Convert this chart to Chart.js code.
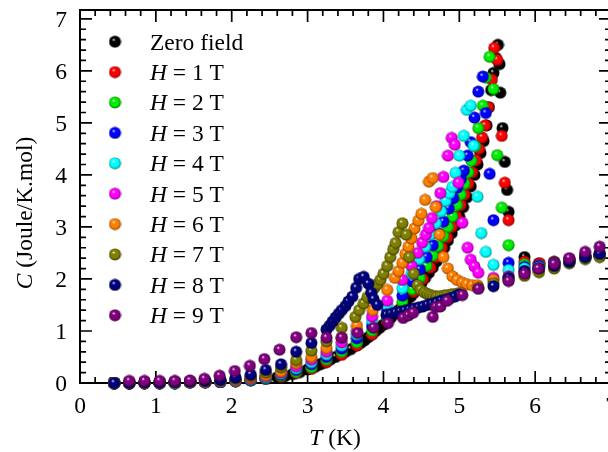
<!DOCTYPE html>
<html>
<head>
<meta charset="utf-8">
<script src="https://cdn.jsdelivr.net/npm/chart.js@4/dist/chart.umd.min.js"></script>
<style>
  html, body { margin: 0; padding: 0; overflow: hidden; background: #fff; }
  canvas { display: block; }
</style>
</head>
<body>
<canvas id="heatChart" width="608" height="452"></canvas>
<script>
// [T (K), C (Joule/K.mol)]
const zeroField = [[0.45,0],[0.65,0],[0.85,0],[1.05,0],[1.25,0],[1.45,0.01],[1.65,0.01],[1.85,0.02],[2.05,0.03],[2.25,0.05],[2.45,0.08],[2.6,0.11],[2.7,0.13],[2.8,0.17],[2.9,0.21],[3.0,0.26],[3.05,0.29],[3.1,0.31],[3.15,0.35],[3.2,0.38],[3.25,0.41],[3.3,0.45],[3.37,0.5],[3.45,0.56],[3.5,0.6],[3.57,0.65],[3.65,0.72],[3.7,0.77],[3.75,0.82],[3.8,0.88],[3.85,0.94],[3.9,1.0],[3.95,1.06],[4.0,1.12],[4.05,1.19],[4.1,1.26],[4.15,1.33],[4.2,1.4],[4.25,1.48],[4.3,1.56],[4.36,1.66],[4.4,1.73],[4.45,1.82],[4.5,1.92],[4.55,2.02],[4.6,2.12],[4.65,2.22],[4.7,2.34],[4.75,2.47],[4.8,2.6],[4.85,2.74],[4.9,2.88],[4.95,3.03],[5.0,3.2],[5.05,3.38],[5.1,3.57],[5.15,3.78],[5.2,4.0],[5.24,4.2],[5.28,4.42],[5.32,4.65],[5.36,4.95],[5.39,5.3],[5.42,5.63],[5.45,5.96],[5.48,6.25],[5.51,6.5],[5.53,6.13],[5.54,5.58],[5.57,4.9],[5.6,4.25],[5.63,3.71],[5.65,3.29],[5.86,2.42],[6.05,2.3],[6.25,2.33],[6.45,2.37],[6.66,2.45],[6.85,2.48]];
const field1T = [[0.45,0],[0.65,0],[0.85,0],[1.05,0],[1.25,0],[1.45,0.01],[1.65,0.01],[1.85,0.02],[2.05,0.03],[2.25,0.05],[2.45,0.08],[2.65,0.12],[2.85,0.19],[3.05,0.27],[3.25,0.4],[3.45,0.54],[3.65,0.72],[3.85,0.93],[4.05,1.18],[4.25,1.48],[4.4,1.75],[4.52,2.0],[4.62,2.22],[4.7,2.42],[4.77,2.6],[4.84,2.8],[4.9,3.0],[4.96,3.2],[5.02,3.42],[5.07,3.62],[5.12,3.83],[5.17,4.05],[5.22,4.28],[5.26,4.5],[5.3,4.72],[5.34,4.95],[5.38,5.3],[5.43,5.83],[5.46,6.44],[5.5,6.21],[5.56,4.75],[5.6,3.85],[5.65,3.13],[5.86,2.33],[6.06,2.3],[6.25,2.32],[6.45,2.38],[6.66,2.43],[6.85,2.47]];
const field2T = [[0.45,0],[0.65,0],[0.85,0],[1.05,0],[1.25,0],[1.45,0.01],[1.65,0.01],[1.85,0.02],[2.05,0.03],[2.25,0.05],[2.45,0.09],[2.65,0.14],[2.85,0.21],[3.05,0.3],[3.25,0.45],[3.45,0.6],[3.65,0.78],[3.85,1.0],[4.05,1.26],[4.25,1.56],[4.38,1.8],[4.48,2.02],[4.57,2.25],[4.65,2.45],[4.72,2.63],[4.79,2.82],[4.85,3.0],[4.91,3.2],[4.97,3.42],[5.02,3.62],[5.07,3.83],[5.12,4.05],[5.16,4.27],[5.21,4.55],[5.25,4.9],[5.31,5.33],[5.35,5.87],[5.4,6.27],[5.45,5.65],[5.5,4.38],[5.56,3.37],[5.65,2.65],[5.86,2.28],[6.06,2.25],[6.25,2.3],[6.45,2.35],[6.66,2.42],[6.85,2.45]];
const field3T = [[0.45,0],[0.65,0],[0.85,0],[1.05,0],[1.25,0],[1.45,0.01],[1.65,0.01],[1.85,0.02],[2.05,0.04],[2.25,0.06],[2.45,0.1],[2.65,0.16],[2.85,0.25],[3.05,0.36],[3.25,0.5],[3.45,0.66],[3.65,0.86],[3.85,1.1],[4.05,1.4],[4.25,1.68],[4.38,1.95],[4.48,2.18],[4.57,2.42],[4.65,2.65],[4.72,2.88],[4.79,3.1],[4.86,3.35],[4.92,3.55],[4.97,3.75],[5.02,3.92],[5.06,4.08],[5.11,4.37],[5.15,4.63],[5.2,5.1],[5.25,5.6],[5.31,5.89],[5.35,5.19],[5.4,4.02],[5.45,3.13],[5.65,2.31],[5.86,2.23],[6.05,2.25],[6.25,2.3],[6.45,2.36],[6.66,2.42],[6.85,2.47]];
const field4T = [[0.45,0],[0.65,0],[0.85,0],[1.05,0],[1.25,0],[1.45,0.01],[1.65,0.02],[1.85,0.03],[2.05,0.04],[2.25,0.07],[2.45,0.11],[2.65,0.18],[2.85,0.28],[3.05,0.4],[3.25,0.55],[3.45,0.72],[3.65,0.93],[3.85,1.2],[4.05,1.5],[4.25,1.82],[4.37,2.1],[4.47,2.38],[4.55,2.62],[4.62,2.85],[4.69,3.07],[4.76,3.3],[4.82,3.5],[4.87,3.65],[4.91,3.77],[4.95,4.04],[5.0,4.37],[5.06,4.75],[5.1,5.25],[5.15,5.33],[5.19,4.56],[5.24,3.58],[5.29,2.88],[5.35,2.52],[5.45,2.27],[5.65,2.17],[5.86,2.2],[6.05,2.22],[6.25,2.28],[6.45,2.35],[6.66,2.42],[6.85,2.45]];
const field5T = [[0.45,0],[0.65,0],[0.85,0],[1.05,0],[1.25,0.01],[1.45,0.01],[1.65,0.02],[1.85,0.03],[2.05,0.05],[2.25,0.08],[2.45,0.13],[2.65,0.2],[2.85,0.32],[3.05,0.45],[3.25,0.6],[3.45,0.78],[3.65,1.0],[3.85,1.28],[4.05,1.58],[4.25,1.98],[4.37,2.25],[4.45,2.5],[4.51,2.7],[4.56,2.85],[4.6,2.98],[4.64,3.17],[4.7,3.4],[4.75,3.65],[4.79,3.96],[4.85,4.37],[4.9,4.71],[4.94,4.58],[4.99,3.85],[5.04,3.08],[5.11,2.6],[5.15,2.37],[5.2,2.24],[5.25,2.12],[5.45,2.02],[5.65,2.05],[5.86,2.15],[6.05,2.2],[6.25,2.26],[6.45,2.34],[6.66,2.42],[6.85,2.45]];
const field6T = [[0.45,0],[0.65,0],[0.85,0],[1.05,0.01],[1.25,0.01],[1.45,0.02],[1.65,0.02],[1.85,0.04],[2.05,0.06],[2.25,0.1],[2.45,0.15],[2.65,0.22],[2.85,0.38],[3.05,0.5],[3.25,0.67],[3.45,0.87],[3.65,1.1],[3.86,1.4],[4.05,1.79],[4.15,2.02],[4.2,2.15],[4.25,2.31],[4.29,2.48],[4.33,2.62],[4.37,2.78],[4.41,2.97],[4.46,3.12],[4.5,3.25],[4.55,3.52],[4.6,3.87],[4.65,3.94],[4.69,3.38],[4.74,2.85],[4.79,2.42],[4.85,2.2],[4.91,2.05],[4.97,1.98],[5.04,1.93],[5.1,1.9],[5.17,1.88],[5.24,1.88],[5.45,1.98],[5.65,2.02],[5.86,2.12],[6.05,2.18],[6.25,2.22],[6.45,2.32],[6.66,2.42],[6.85,2.45]];
const field7T = [[0.45,0],[0.65,0],[0.85,0.01],[1.05,0.01],[1.25,0.01],[1.45,0.02],[1.65,0.03],[1.85,0.05],[2.05,0.08],[2.25,0.13],[2.45,0.2],[2.65,0.3],[2.85,0.44],[3.05,0.62],[3.25,0.8],[3.45,1.06],[3.63,1.27],[3.68,1.4],[3.74,1.53],[3.79,1.65],[3.84,1.75],[3.88,1.83],[3.92,1.9],[3.96,1.98],[4.0,2.1],[4.05,2.25],[4.09,2.42],[4.13,2.57],[4.16,2.69],[4.2,2.9],[4.25,3.07],[4.3,2.85],[4.34,2.42],[4.4,2.1],[4.45,1.88],[4.49,1.79],[4.54,1.74],[4.58,1.71],[4.62,1.69],[4.66,1.67],[4.7,1.66],[4.75,1.67],[4.8,1.68],[4.84,1.69],[4.89,1.7],[4.93,1.71],[4.98,1.72],[5.02,1.73],[5.25,1.83],[5.45,1.92],[5.65,1.98],[5.86,2.06],[6.05,2.13],[6.25,2.2],[6.45,2.3],[6.66,2.38],[6.85,2.42]];
const field8T = [[0.45,0],[0.65,0],[0.85,0.01],[1.05,0.01],[1.25,0.02],[1.45,0.03],[1.65,0.04],[1.85,0.06],[2.05,0.1],[2.25,0.16],[2.45,0.25],[2.65,0.36],[2.85,0.6],[3.05,0.77],[3.25,1.03],[3.29,1.1],[3.33,1.18],[3.37,1.26],[3.41,1.33],[3.45,1.4],[3.5,1.48],[3.54,1.57],[3.59,1.66],[3.64,1.83],[3.68,2.0],[3.74,2.04],[3.8,1.91],[3.84,1.73],[3.87,1.61],[3.92,1.5],[4.04,1.31],[4.1,1.33],[4.16,1.35],[4.22,1.37],[4.28,1.39],[4.34,1.41],[4.4,1.43],[4.46,1.45],[4.52,1.47],[4.58,1.5],[4.64,1.52],[4.7,1.55],[4.76,1.58],[4.82,1.6],[4.88,1.63],[4.94,1.66],[5.0,1.7],[5.45,1.86],[5.65,2.02],[5.86,2.15],[6.05,2.2],[6.25,2.25],[6.45,2.33],[6.66,2.42],[6.85,2.48]];
const field9T = [[0.65,0.04],[0.85,0.04],[1.05,0.04],[1.25,0.04],[1.45,0.05],[1.64,0.08],[1.84,0.14],[2.04,0.23],[2.24,0.33],[2.43,0.46],[2.63,0.64],[2.85,0.88],[3.05,0.96],[3.25,0.87],[3.45,0.87],[3.66,0.96],[3.87,1.06],[4.06,1.15],[4.26,1.25],[4.33,1.3],[4.39,1.35],[4.65,1.27],[4.69,1.46],[4.75,1.47],[4.84,1.58],[5.04,1.69],[5.25,1.81],[5.65,1.96],[5.86,2.1],[6.04,2.2],[6.25,2.29],[6.45,2.4],[6.66,2.52],[6.85,2.62]];

const seriesData = [zeroField, field1T, field2T, field3T, field4T, field5T, field6T, field7T, field8T, field9T];
const fieldValues = [0, 1, 2, 3, 4, 5, 6, 7, 8, 9];
const seriesColors = ['#000000', '#ff0000', '#00ee00', '#0000ff', '#00ffff', '#ff00ff', '#ff8000', '#808000', '#000080', '#800080'];
const seriesShades = ['#000000', '#8a0000', '#007a00', '#00008a', '#008a8a', '#8a008a', '#8a4400', '#3a3a00', '#00003a', '#3a003a'];
const xTickLabels = ['0', '1', '2', '3', '4', '5', '6', '7'];
const yTickLabels = ['0', '1', '2', '3', '4', '5', '6', '7'];

const FONT = '"Liberation Serif", "Times New Roman", serif';
const SIZE = 23.5;

const makeBall = (color, shade) => {
  const c = document.createElement('canvas');
  c.width = 13;
  c.height = 13;
  const g = c.getContext('2d');
  const grad = g.createRadialGradient(5.0, 4.2, 0.2, 6.5, 6.5, 6.0);
  grad.addColorStop(0, '#ffffff');
  grad.addColorStop(0.25, color);
  grad.addColorStop(0.7, color);
  grad.addColorStop(1, shade);
  g.fillStyle = grad;
  g.beginPath();
  g.arc(6.5, 6.5, 6.0, 0, Math.PI * 2);
  g.fill();
  return c;
};

const balls = seriesColors.map((c, i) => makeBall(c, seriesShades[i]));

const drawRich = (ctx, parts, x, y, align) => {
  let w = 0;
  parts.forEach((p) => {
    ctx.font = (p.italic ? 'italic ' : '') + SIZE + 'px ' + FONT;
    w += ctx.measureText(p.text).width;
  });
  let cx = align === 'center' ? x - w / 2 : x;
  parts.forEach((p) => {
    ctx.font = (p.italic ? 'italic ' : '') + SIZE + 'px ' + FONT;
    ctx.fillText(p.text, cx, y);
    cx += ctx.measureText(p.text).width;
  });
};

const legendParts = (h) => h === 0
  ? [{ text: 'Zero field' }]
  : [{ text: 'H', italic: true }, { text: ' = ' + h + ' T' }];

const framePlugin = {
  id: 'frame',
  beforeDatasetsDraw(chart) {
    const { ctx, chartArea } = chart;
    const { left, top, bottom } = chartArea;
    const xs = chart.scales.x;
    const ys = chart.scales.y;
    // the x = 7 edge sits just past the canvas, as in the figure
    const right = xs.getPixelForValue(7);
    ctx.save();
    ctx.strokeStyle = '#000';
    ctx.fillStyle = '#000';
    ctx.lineWidth = 2;
    ctx.strokeRect(left, top, right - left, bottom - top);
    ctx.lineWidth = 1.7;
    ctx.beginPath();
    for (let k = 0; k <= 35; k++) {
      const len = k % 5 === 0 ? 12 : 6;
      const px = xs.getPixelForValue(k * 0.2);
      ctx.moveTo(px, bottom); ctx.lineTo(px, bottom - len);
      ctx.moveTo(px, top); ctx.lineTo(px, top + len);
      const py = ys.getPixelForValue(k * 0.2);
      ctx.moveTo(left, py); ctx.lineTo(left + len, py);
      ctx.moveTo(right, py); ctx.lineTo(right - len, py);
    }
    ctx.stroke();

    ctx.textBaseline = 'alphabetic';
    ctx.font = SIZE + 'px ' + FONT;
    ctx.textAlign = 'center';
    xTickLabels.forEach((t) => {
      ctx.fillText(t, xs.getPixelForValue(Number(t)), bottom + 30);
    });
    ctx.textAlign = 'right';
    yTickLabels.forEach((t) => {
      ctx.fillText(t, left - 13, ys.getPixelForValue(Number(t)) + 8);
    });

    ctx.textAlign = 'left';
    drawRich(ctx, [{ text: 'T', italic: true }, { text: ' (K)' }], 335, 445, 'center');
    ctx.save();
    ctx.translate(32, 213);
    ctx.rotate(-Math.PI / 2);
    drawRich(ctx, [{ text: 'C', italic: true }, { text: ' (Joule/K.mol)' }], 0, 0, 'center');
    ctx.restore();
    ctx.restore();
  },
  afterDraw(chart) {
    const { ctx } = chart;
    ctx.save();
    ctx.fillStyle = '#000';
    ctx.textAlign = 'left';
    ctx.textBaseline = 'alphabetic';
    fieldValues.forEach((h, i) => {
      const y = 41.7 + i * 30.4;
      ctx.drawImage(balls[i], 115 - 6.5, y - 6.5);
      drawRich(ctx, legendParts(h), 150, y + 7.8, 'left');
    });
    ctx.restore();
  },
};

new Chart(document.getElementById('heatChart'), {
  type: 'scatter',
  data: {
    datasets: seriesData.map((pts, i) => ({
      label: fieldValues[i] === 0 ? 'Zero field' : 'H = ' + fieldValues[i] + ' T',
      data: pts.map((p) => ({ x: p[0], y: p[1] })),
      pointStyle: balls[i],
      pointRadius: 6,
      backgroundColor: seriesColors[i],
      borderColor: seriesColors[i],
      order: 9 - i,
      clip: false,
    })),
  },
  options: {
    responsive: false,
    animation: false,
    events: [],
    layout: { autoPadding: false, padding: { left: 80, right: 0, top: 10, bottom: 69 } },
    plugins: { legend: { display: false }, tooltip: { enabled: false } },
    scales: {
      x: { type: 'linear', min: 0, max: 6.96, display: false },
      y: { type: 'linear', min: 0, max: 7.17, display: false },
    },
  },
  plugins: [framePlugin],
});
</script>
</body>
</html>
